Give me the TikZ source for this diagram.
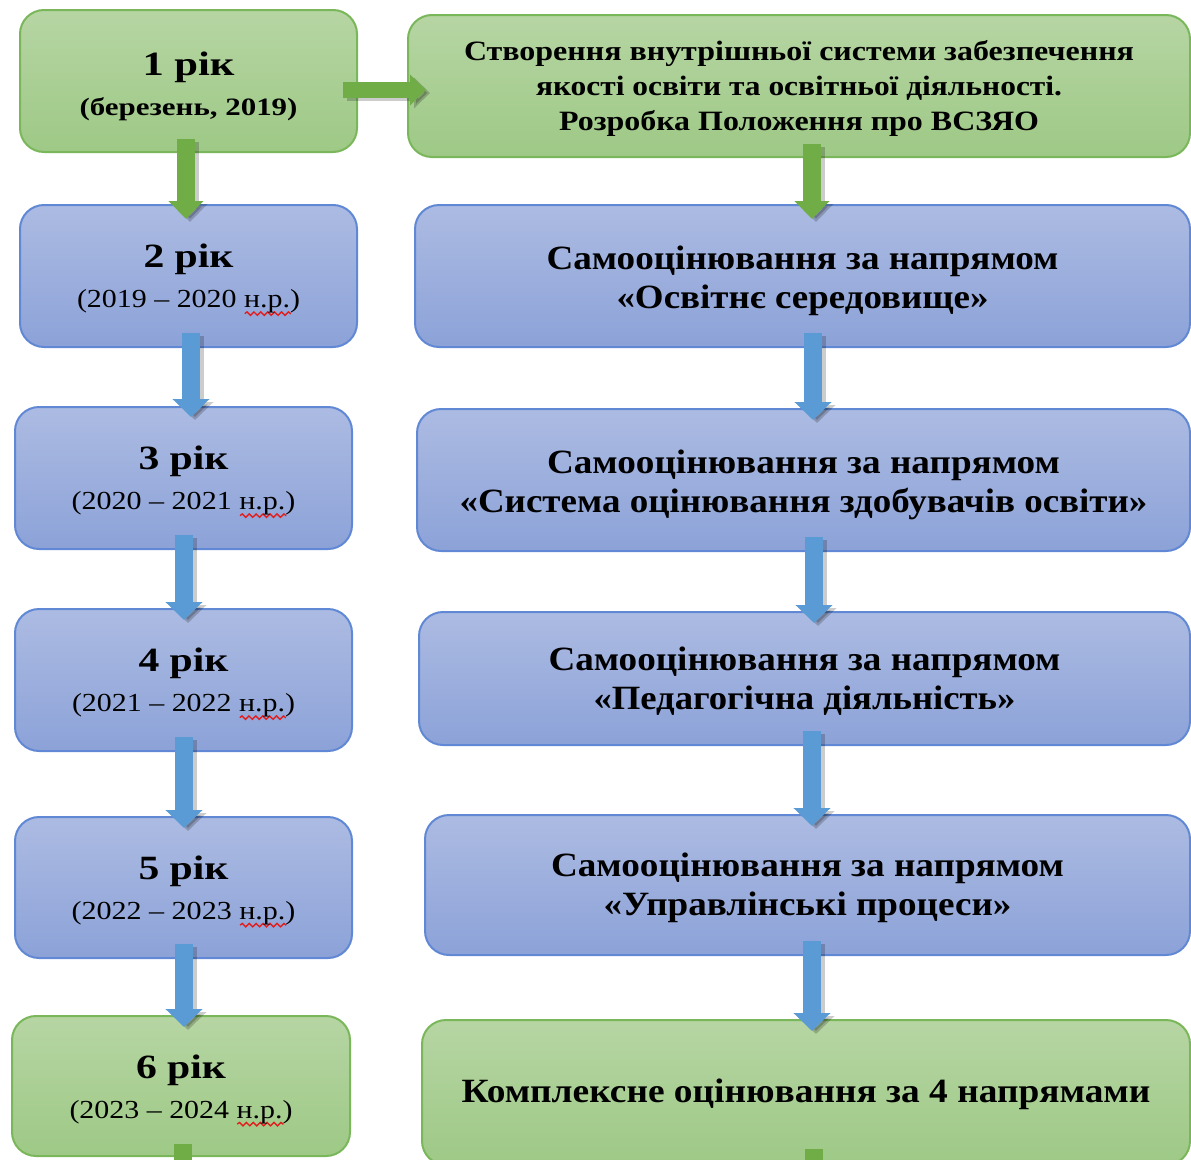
\documentclass[tikz,border=0pt]{standalone}
\usepackage{fontspec}
\setmainfont{Liberation Serif}
\usepackage{graphicx}
\usetikzlibrary{arrows.meta,calc,decorations.pathmorphing}
\definecolor{gtop}{RGB}{182,213,163}
\definecolor{gbot}{RGB}{158,201,134}
\definecolor{gline}{RGB}{122,183,90}
\definecolor{btop}{RGB}{172,187,226}
\definecolor{bbot}{RGB}{140,162,216}
\definecolor{bline}{RGB}{96,136,212}
\definecolor{garc}{RGB}{112,173,71}
\definecolor{barc}{RGB}{91,155,213}
\definecolor{wavered}{RGB}{225,30,30}
\newsavebox\fitbx
\newsavebox\wavbx
\newlength\fitl
\newcommand\fitto[2]{\sbox\fitbx{#2}\setlength\fitl{\wd\fitbx}\pgfmathsetmacro\fitf{#1/\fitl}\scalebox{\fitf}[1]{\usebox\fitbx}}
\newcommand\redwave[1]{\sbox\wavbx{#1}\rlap{\tikz[baseline=0pt,x=1pt,y=1pt]\draw[wavered,line width=1.3pt,decorate,decoration={snake,amplitude=1.7pt,segment length=6pt}] (0pt,-6pt) -- (\the\wd\wavbx,-6pt);}#1}
\newcommand\yrtext[3]{\fitto{90}{\fontsize{34}{34}\selectfont\bfseries #1}\\\fitto{#3}{\fontsize{26}{26}\selectfont #2}}
\newcommand\rline[2]{\fitto{#1}{\fontsize{34}{34}\selectfont\bfseries #2}}
\newcommand\rlsm[2]{\fitto{#1}{\fontsize{28}{28}\selectfont\bfseries #2}}
\tikzset{
  boxbase/.style={rectangle, rounded corners=24pt, line width=2pt, inner sep=0pt},
  gbox/.style={boxbase, draw=gline, top color=gtop, bottom color=gbot},
  bbox/.style={boxbase, draw=bline, top color=btop, bottom color=bbot},
  txt/.style={align=center, inner sep=0pt, text=black},
  lfont/.style={txt, font=\fontsize{26}{40}\selectfont},
  rfont/.style={txt, font=\fontsize{34}{39}\selectfont},
  r1font/.style={txt, font=\fontsize{28}{35}\selectfont},
  garrow/.style={draw=garc, line width=18pt, -{Triangle[length=18pt,width=34pt]}},
  barrow/.style={draw=barc, line width=18pt, -{Triangle[length=18pt,width=36pt]}},
  harrow/.style={draw=garc, line width=16pt, -{Triangle[length=16pt,width=30pt]}},
  gshaft/.style={draw=garc, line width=18pt},
  shad/.style={draw=black, opacity=0.2, transform canvas={shift={(4pt,-3pt)}}},
}
\begin{document}
\begin{tikzpicture}[x=1pt,y=-1pt]
\useasboundingbox (0,0) rectangle (1191,1159);
\clip (0,0) rectangle (1191,1159);
% left column boxes
\node[gbox, minimum width=337pt, minimum height=142pt] (L1) at (188.5,81) {};
\node[bbox, minimum width=337pt, minimum height=142pt] (L2) at (188.5,276) {};
\node[bbox, minimum width=337pt, minimum height=142pt] (L3) at (183.5,478) {};
\node[bbox, minimum width=337pt, minimum height=142pt] (L4) at (183.5,680) {};
\node[bbox, minimum width=337pt, minimum height=141pt] (L5) at (183.5,887.5) {};
\node[gbox, minimum width=338pt, minimum height=140pt] (L6) at (181,1086) {};
% right column boxes
\node[gbox, minimum width=782pt, minimum height=142pt] (R1) at (799,86) {};
\node[bbox, minimum width=775pt, minimum height=142pt] (R2) at (802.5,276) {};
\node[bbox, minimum width=773pt, minimum height=142pt] (R3) at (803.5,480) {};
\node[bbox, minimum width=771pt, minimum height=133pt] (R4) at (804.5,678.5) {};
\node[bbox, minimum width=765pt, minimum height=140pt] (R5) at (807.5,885) {};
\node[gbox, minimum width=768pt, minimum height=145pt] (R6) at (806,1092.5) {};
% texts
\node[lfont] (L1t) at ($(L1.center)+(0,5)$)
  {\fitto{92}{\fontsize{34}{34}\selectfont\bfseries 1 рік}\\\fitto{218}{\fontsize{25}{25}\selectfont\bfseries (березень, 2019)}};
\node[lfont] (L2t) at ($(L2.center)+(0,4)$) {\yrtext{2 рік}{(2019 – 2020 \redwave{н.р.})}{223}};
\node[lfont] (L3t) at ($(L3.center)+(0,4)$) {\yrtext{3 рік}{(2020 – 2021 \redwave{н.р.})}{224}};
\node[lfont] (L4t) at ($(L4.center)+(0,4)$) {\yrtext{4 рік}{(2021 – 2022 \redwave{н.р.})}{223}};
\node[lfont] (L5t) at ($(L5.center)+(0,4)$) {\yrtext{5 рік}{(2022 – 2023 \redwave{н.р.})}{224}};
\node[lfont] (L6t) at ($(L6.center)+(0,4.5)$) {\yrtext{6 рік}{(2023 – 2024 \redwave{н.р.})}{223}};
\node[r1font] (R1t) at ($(R1.center)+(0,2)$)
  {\rlsm{670}{Створення внутрішньої системи забезпечення}\\\rlsm{526}{якості освіти та освітньої діяльності.}\\\rlsm{480}{Розробка Положення про ВСЗЯО}};
\node[rfont] (R2t) at ($(R2.center)+(0,5)$)
  {\rline{512}{Самооцінювання за напрямом}\\\rline{372}{«Освітнє середовище»}};
\node[rfont] (R3t) at ($(R3.center)+(0,4.5)$)
  {\rline{513}{Самооцінювання за напрямом}\\\rline{688}{«Система оцінювання здобувачів освіти»}};
\node[rfont] (R4t) at ($(R4.center)+(0,3)$)
  {\rline{512}{Самооцінювання за напрямом}\\\rline{422}{«Педагогічна діяльність»}};
\node[rfont] (R5t) at ($(R5.center)+(0,3)$)
  {\rline{513}{Самооцінювання за напрямом}\\\rline{408}{«Управлінські процеси»}};
\node[rfont] (R6t) at ($(R6.center)+(0,2)$)
  {\rline{689}{Комплексне оцінювання за 4 напрямами}};
\coordinate (rx) at (812,0);
% shadows
\draw[harrow, shad] ($(L1.east)+(-15,9)$) -- ($(R1.west)+(19,4)$);
\draw[garrow, shad] ($(L1.south)+(-2.5,-14)$) -- ($(L2.north)+(-2.5,15)$);
\draw[barrow, shad] ($(L2.south)+(2.5,-15)$) -- ($(L3.north)+(7.5,11)$);
\draw[barrow, shad] ($(L3.south)+(0.5,-15)$) -- ($(L4.north)+(0.5,12)$);
\draw[barrow, shad] ($(L4.south)+(0.5,-15)$) -- ($(L5.north)+(0.5,12)$);
\draw[barrow, shad] ($(L5.south)+(0.5,-15)$) -- ($(L6.north)+(3,12)$);
\draw[garrow, shad] ($(R1.south -| rx)+(0,-14)$) -- ($(R2.north -| rx)+(0,15)$);
\draw[barrow, shad] ($(R2.south -| rx)+(1,-15)$) -- ($(R3.north -| rx)+(1,12)$);
\draw[barrow, shad] ($(R3.south -| rx)+(2,-15)$) -- ($(R4.north -| rx)+(2,12)$);
\draw[barrow, shad] ($(R4.south -| rx)+(0,-15)$) -- ($(R5.north -| rx)+(0,12)$);
\draw[barrow, shad] ($(R5.south -| rx)+(0,-15)$) -- ($(R6.north -| rx)+(0,12)$);
% arrows
\draw[harrow] ($(L1.east)+(-15,9)$) -- ($(R1.west)+(19,4)$);
\draw[garrow] ($(L1.south)+(-2.5,-14)$) -- ($(L2.north)+(-2.5,15)$);
\draw[barrow] ($(L2.south)+(2.5,-15)$) -- ($(L3.north)+(7.5,11)$);
\draw[barrow] ($(L3.south)+(0.5,-15)$) -- ($(L4.north)+(0.5,12)$);
\draw[barrow] ($(L4.south)+(0.5,-15)$) -- ($(L5.north)+(0.5,12)$);
\draw[barrow] ($(L5.south)+(0.5,-15)$) -- ($(L6.north)+(3,12)$);
\draw[garrow] ($(R1.south -| rx)+(0,-14)$) -- ($(R2.north -| rx)+(0,15)$);
\draw[barrow] ($(R2.south -| rx)+(1,-15)$) -- ($(R3.north -| rx)+(1,12)$);
\draw[barrow] ($(R3.south -| rx)+(2,-15)$) -- ($(R4.north -| rx)+(2,12)$);
\draw[barrow] ($(R4.south -| rx)+(0,-15)$) -- ($(R5.north -| rx)+(0,12)$);
\draw[barrow] ($(R5.south -| rx)+(0,-15)$) -- ($(R6.north -| rx)+(0,12)$);
% stubs leaving the bottom
\draw[gshaft] ($(L6.south)+(2,-13)$) -- ++(0,40);
\draw[gshaft] ($(R6.south -| rx)+(2,-17)$) -- ++(0,40);
\end{tikzpicture}
\end{document}
